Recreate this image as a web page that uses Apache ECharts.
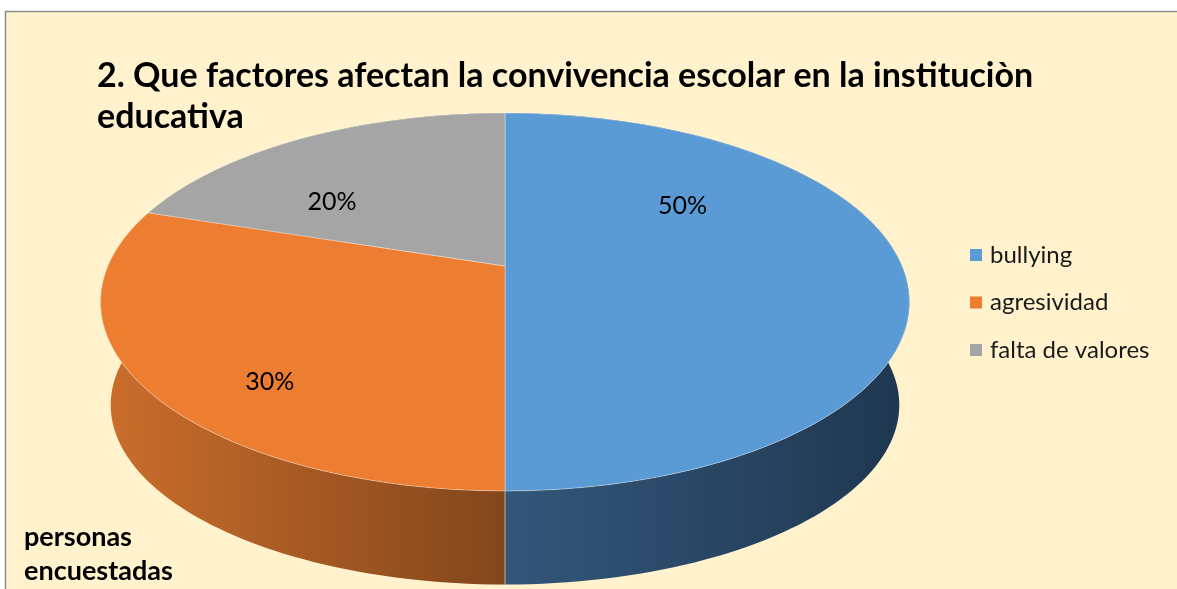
<!DOCTYPE html>
<html>
<head>
<meta charset="utf-8">
<script src="https://cdn.jsdelivr.net/npm/echarts@6/dist/echarts.min.js"></script>
<style>
  html, body { margin: 0; padding: 0; background: #fff; }
  #chart { width: 1177px; height: 589px; }
</style>
</head>
<body>
<div id="chart"></div>
<script>
// values
const categories = ["bullying", "agresividad", "falta de valores"];
const shares = [50, 30, 20];
const titleText = "2. Que factores afectan la convivencia escolar en la instituciòn\neducativa";
const footText = "personas\nencuestadas";

const topColors = ["#5B9BD5", "#ED7D31", "#A5A5A5"];
const wallColors = [["#33577A", "#1F3750"], ["#CB6E2C", "#83461B"], ["#808080", "#5E5E5E"]];

// perspective of the tilted disc (screen px)
const geo = { cx: 505, cy: 266, ax: 397, by: 182.1, p: 0.1905, midY: 302, rx: 404, ry: 189, depth: 103, shrinkX: 0.975, shrinkY: 0.95 };
// label placement: nudge from the mid angle (deg) and radius on the outline ellipse
const labelNudge = [[-49, 0.67], [0, 0.72], [-3, 0.68]];

const total = shares.reduce((a, b) => a + b, 0);
const starts = shares.map((_, i) => shares.slice(0, i).reduce((a, b) => a + b, 0));

function onTop(deg, r) {
  const t = (deg * Math.PI) / 180;
  const X = r * Math.sin(t), Z = -r * Math.cos(t);
  const w = 1 - geo.p * Z;
  return [geo.cx + (geo.ax * X) / w, geo.cy + (geo.by * Z) / w];
}
function onBottom(deg) {
  const [x, y] = onTop(deg, 1);
  return [geo.cx + (x - geo.cx) * geo.shrinkX, geo.midY + geo.depth + (y - geo.midY) * geo.shrinkY];
}
function arc(a0, a1, fn) {
  const n = Math.max(2, Math.ceil((a1 - a0) / 1.5));
  const pts = [];
  for (let k = 0; k <= n; k++) pts.push(fn(a0 + ((a1 - a0) * k) / n));
  return pts;
}

function renderSlice(params, api) {
  const i = params.seriesIndex;
  const v = api.value(0);
  const a0 = (starts[i] / total) * 360;
  const a1 = a0 + (v / total) * 360;
  const topArc = arc(a0, a1, (d) => onTop(d, 1));
  const botArc = arc(a0, a1, onBottom);
  const wallFill = new echarts.graphic.LinearGradient(0, 0, 1, 0, [
    { offset: 0, color: wallColors[i][0] },
    { offset: 1, color: wallColors[i][1] },
  ]);
  const la = (((a0 + a1) / 2 + labelNudge[i][0]) * Math.PI) / 180;
  const lr = labelNudge[i][1];
  const lx = geo.cx + geo.rx * lr * Math.sin(la);
  const ly = geo.midY - geo.ry * lr * Math.cos(la);
  return {
    type: "group",
    children: [
      {
        type: "polygon",
        z2: a0 < 180 ? 0 : 1,
        shape: { points: topArc.concat(botArc.slice().reverse()) },
        style: { fill: wallFill },
      },
      {
        type: "line",
        z2: 3,
        shape: { x1: onTop(a0, 1)[0], y1: onTop(a0, 1)[1], x2: onBottom(a0)[0], y2: onBottom(a0)[1] },
        style: { stroke: "rgba(255,255,255,0.55)", lineWidth: 1 },
        invisible: a0 < 90 || a0 > 270,
      },
      {
        type: "polygon",
        z2: 10,
        shape: { points: [[geo.cx, geo.cy]].concat(topArc) },
        style: { fill: topColors[i], stroke: "rgba(255,255,255,0.45)", lineWidth: 0.8 },
      },
      {
        type: "text",
        z2: 20,
        x: lx,
        y: ly,
        style: {
          text: Math.round((v / total) * 100) + "%",
          fill: "#000",
          font: '25px Lato, "Liberation Sans", sans-serif',
          align: "center",
          verticalAlign: "middle",
        },
      },
    ],
  };
}

const chart = echarts.init(document.getElementById("chart"), null, { renderer: "canvas" });
chart.setOption({
  backgroundColor: "#ffffff",
  animation: false,
  graphic: [
    {
      type: "rect",
      z: -10,
      shape: { x: 5.5, y: 11.5, width: 1200, height: 600 },
      style: { fill: "#FFF2CC", stroke: "#8C8C8C", lineWidth: 1.5 },
    },
  ],
  title: [
    {
      text: titleText,
      left: 97,
      top: 56,
      padding: 0,
      textStyle: { fontFamily: "Lato", fontWeight: "bold", fontSize: 34, lineHeight: 41, color: "#000" },
    },
    {
      text: footText,
      left: 24,
      top: 520,
      padding: 0,
      textStyle: { fontFamily: "Lato", fontWeight: "bold", fontSize: 27, lineHeight: 34, color: "#000" },
    },
  ],
  legend: {
    data: categories,
    orient: "vertical",
    left: 970,
    top: 243,
    padding: 0,
    icon: "rect",
    itemWidth: 12,
    itemHeight: 12,
    itemGap: 23.5,
    textStyle: { fontFamily: "Lato", fontSize: 24, lineHeight: 24, color: "#1a1a1a", padding: [0, 0, 0, 3] },
    selectedMode: false,
  },
  series: categories.map((name, i) => ({
    type: "custom",
    name,
    coordinateSystem: "none",
    itemStyle: { color: topColors[i] },
    renderItem: renderSlice,
    data: [[shares[i]]],
  })),
});
</script>
</body>
</html>
